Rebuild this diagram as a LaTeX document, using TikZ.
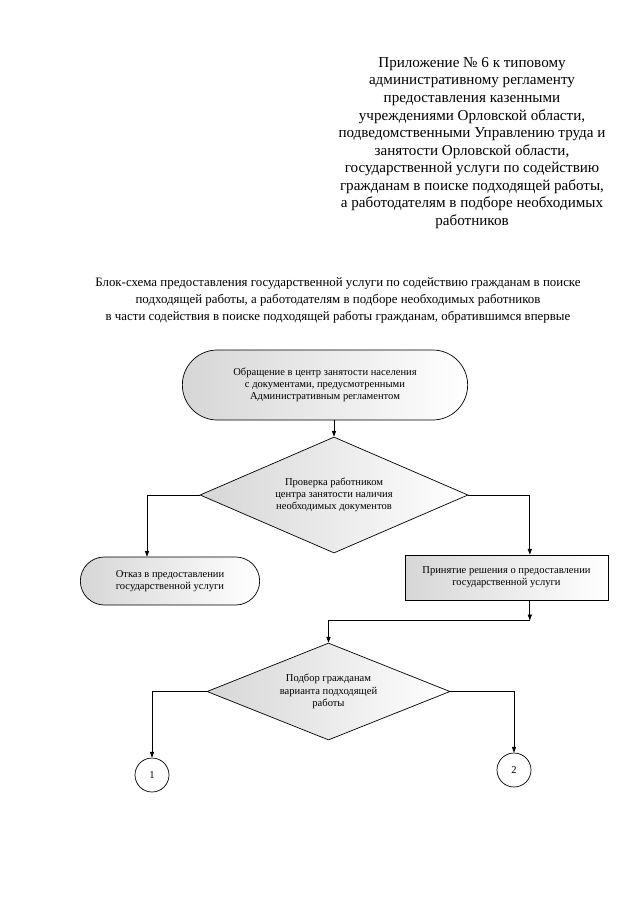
\documentclass[tikz,border=0pt]{standalone}
\usepackage{fontspec}
\setmainfont{Liberation Serif}
\usetikzlibrary{arrows.meta,positioning,shapes.geometric,shapes.misc}
\newcommand{\chartfont}{\fontsize{9}{10.4}\selectfont}
\tikzset{
  shadefill/.style={left color=black!16,right color=white},
  term/.style={rounded rectangle,draw,shadefill,line width=0.6pt,align=center,font=\chartfont,inner sep=2pt},
  proc/.style={rectangle,draw,shadefill,line width=0.6pt,align=center,font=\chartfont,inner sep=2pt},
  cond/.style={diamond,draw,shadefill,line width=0.6pt,align=center,font=\chartfont,inner sep=0pt},
  conn/.style={circle,draw,line width=0.6pt,minimum size=1.02cm,inner sep=0pt,font=\chartfont},
  arr/.style={-{Triangle[length=5pt,width=3.6pt]},line width=0.6pt},
  heading/.style={align=center,font=\fontsize{12.9}{15}\selectfont},
}
\begin{document}
\begin{tikzpicture}[x=0.03cm,y=-0.03cm]
  \useasboundingbox (0,0) rectangle (639,905);
  % header texts
  \node[heading] (annex) at (472,143) {Приложение № 6 к типовому\\
    административному регламенту\\
    предоставления казенными\\
    учреждениями Орловской области,\\
    подведомственными Управлению труда и\\
    занятости Орловской области,\\
    государственной услуги по содействию\\
    гражданам в поиске подходящей работы,\\
    а работодателям в подборе необходимых\\
    работников};
  \node[heading,font=\fontsize{11}{14.5}\selectfont] (caption) at (338,300) {Блок-схема предоставления государственной услуги по содействию гражданам в поиске\\
    подходящей работы, а работодателям в подборе необходимых работников\\
    в части содействия в поиске подходящей работы гражданам, обратившимся впервые};
  % flowchart
  \node[term,minimum width=8.7cm,minimum height=2.1cm] (apply) at (325,385)
    {Обращение в центр занятости населения\\ с документами, предусмотренными\\ Административным регламентом};
  \node[cond,aspect=2.3,minimum width=8.04cm,minimum height=3.48cm] (check) at (334,495)
    {Проверка работником\\ центра занятости наличия\\ необходимых документов};
  \node[term,minimum width=5.52cm,minimum height=1.44cm] (refuse) at (170,581)
    {Отказ в предоставлении\\ государственной услуги};
  \node[proc,minimum width=6.09cm,minimum height=1.35cm] (accept) at (506.5,577.5)
    {Принятие решения о предоставлении\\ государственной услуги};
  \node[cond,aspect=2.5,minimum width=7.29cm,minimum height=2.91cm] (match) at (328.5,691.5)
    {Подбор гражданам\\ варианта подходящей\\ работы};
  \node[conn] (out1) at (152,775) {1};
  \node[conn] (out2) at (514,770) {2};
  \draw[arr] (apply.south -| check.north) -- (check.north);
  \draw[arr] (check.west) -| ([xshift=-0.69cm]refuse.north);
  \draw[arr] (check.east) -| ([xshift=0.7cm]accept.north);
  \draw[arr] ([xshift=0.7cm]accept.south) -- ++(0,20) coordinate (joint);
  \draw[arr] (joint) -| (match.north);
  \draw[arr] (match.west) -| (out1.north);
  \draw[arr] (match.east) -| (out2.north);
\end{tikzpicture}
\end{document}
